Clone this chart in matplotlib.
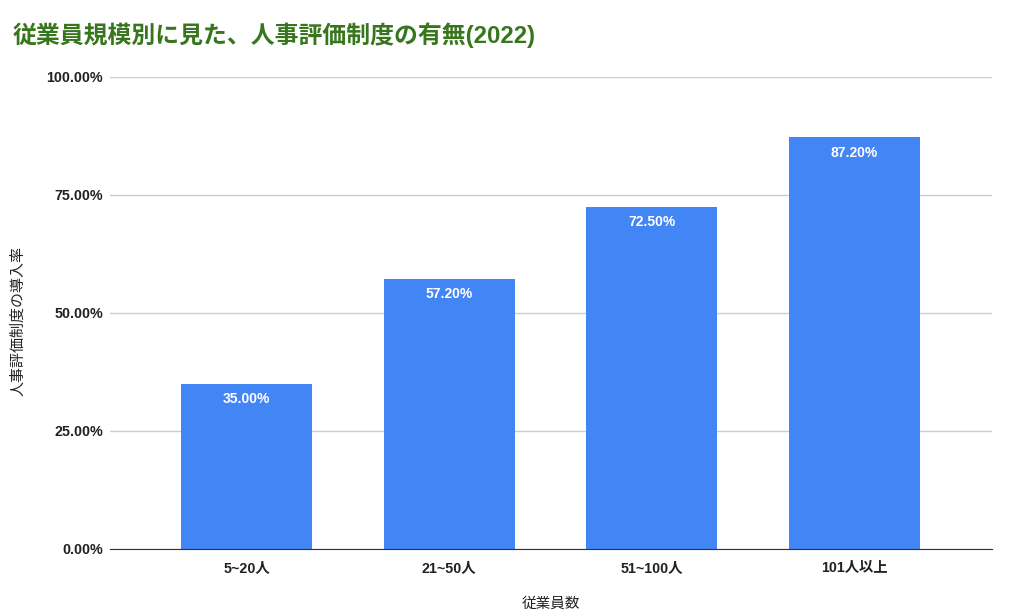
import matplotlib
matplotlib.use("Agg")
import matplotlib.pyplot as plt
from matplotlib.ticker import FuncFormatter

plt.rcParams['font.family'] = ['Liberation Sans', 'Noto Sans CJK JP', 'DejaVu Sans']

categories = ["5~20人", "21~50人", "51~100人", "101人以上"]
rates = [35.0, 57.2, 72.5, 87.2]
yticks = [0, 25, 50, 75, 100]

fig = plt.figure(figsize=(10.12, 6.16), dpi=100)
ax = fig.add_axes([0.1087, 0.1088, 0.8715, 0.7662])

x = list(range(len(categories)))
bars = ax.bar(x, rates, width=0.646, color="#4285f4", zorder=3)

for b, v in zip(bars, rates):
    ax.annotate(f"{v:.2f}%", (b.get_x() + b.get_width() / 2, v),
                xytext=(0, -6), textcoords="offset points",
                ha="center", va="top", color="white",
                fontsize=10, fontweight="bold", zorder=4)

ax.set_xlim(-0.673, 3.678)
ax.set_ylim(0, 100)
ax.set_yticks(yticks)
ax.yaxis.set_major_formatter(FuncFormatter(lambda v, p: f"{v:.2f}%"))
ax.set_xticks(x)
ax.set_xticklabels(categories)
for lab in ax.get_xticklabels() + ax.get_yticklabels():
    lab.set_fontweight("bold")
    lab.set_fontsize(10.3)
    lab.set_color("#222222")

ax.tick_params(axis="both", length=0)
ax.tick_params(axis="x", pad=9)
ax.tick_params(axis="y", pad=5)
ax.grid(axis="y", color="#cccccc", linewidth=1, zorder=0)
for s in ["top", "right", "left"]:
    ax.spines[s].set_visible(False)
ax.spines["bottom"].set_color("#333333")
ax.spines["bottom"].set_zorder(5)

ax.set_xlabel("従業員数", fontsize=10.5, color="#222222", labelpad=15)
ax.set_ylabel("人事評価制度の導入率", fontsize=10.8, color="#222222")
ax.yaxis.set_label_coords(-0.096, 0.483)

fig.text(0.012, 0.943, "従業員規模別に見た、人事評価制度の有無(2022)",
         fontsize=17.2, fontweight="bold", color="#38761d", va="center", ha="left")

fig.savefig("out.png", dpi=100)
